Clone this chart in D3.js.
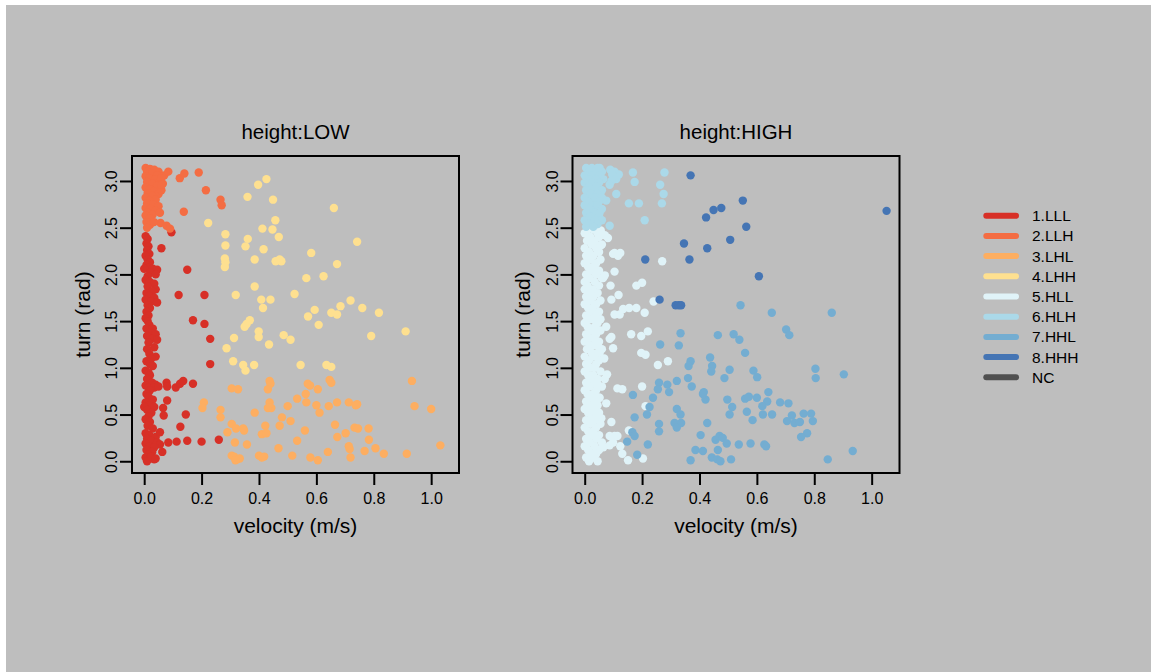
<!DOCTYPE html>
<html lang="en">
<head>
<meta charset="UTF-8">
<title>turn vs velocity by height</title>
<script src="https://cdnjs.cloudflare.com/ajax/libs/d3/7.8.5/d3.min.js"></script>
<style>
  body { margin: 0; background: #fff; }
  svg { display: block; font-family: "Liberation Sans", Arial, sans-serif; }
</style>
</head>
<body>
<div id="chart"></div>
<script>
// legend / state categories
var stateLabels = ["1.LLL", "2.LLH", "3.LHL", "4.LHH", "5.HLL", "6.HLH", "7.HHL", "8.HHH", "NC"];
var stateColors = ["#D73027", "#F46D43", "#FDAE61", "#FEE090", "#E0F3F8", "#ABD9E9", "#74ADD1", "#4575B4", "#505050"];
var panelTitles = ["height:LOW", "height:HIGH"];
var xTicks = [0, 0.2, 0.4, 0.6, 0.8, 1.0];
var yTicks = [0, 0.5, 1.0, 1.5, 2.0, 2.5, 3.0];

// [velocity, turn] pairs
var lowLLL = [
  [0.005,2.41],[0.012,2.38],[0.008,2.33],[0.015,2.3],[0.01,2.26],[0.018,2.22],[0.005,2.2],[0.012,2.16],[0.02,2.13],[0.008,2.1],
  [0.015,2.07],[0.03,2.06],[0.045,2.05],[0.0,2.06],[0.022,2.02],[0.04,2.0],[0.012,1.98],[0.005,1.94],[0.02,1.92],[0.035,1.9],
  [0.012,1.87],[0.04,1.84],[0.028,1.82],[0.008,1.8],[0.018,1.77],[0.035,1.75],[0.005,1.73],[0.025,1.71],[0.045,1.7],[0.012,1.67],
  [0.02,1.64],[0.008,1.6],[0.015,1.56],[0.005,1.53],[0.012,1.5],[0.018,1.46],[0.008,1.42],[0.03,1.42],[0.02,1.38],[0.04,1.36],
  [0.01,1.34],[0.028,1.31],[0.045,1.3],[0.015,1.27],[0.035,1.22],[0.01,1.2],[0.018,1.15],[0.04,1.12],[0.025,1.1],[0.008,1.07],
  [0.02,1.04],[0.03,1.02],[0.005,0.97],[0.015,0.95],[0.02,0.92],[0.01,0.88],[0.028,0.84],[0.04,0.82],[0.005,0.81],[0.015,0.79],
  [0.035,0.79],[0.05,0.8],[0.02,0.76],[0.008,0.72],[0.015,0.69],[0.03,0.66],[0.005,0.63],[0.018,0.6],[0.0,0.58],[0.035,0.58],
  [0.01,0.55],[0.025,0.52],[0.015,0.48],[0.005,0.45],[0.02,0.42],[0.012,0.38],[0.03,0.35],[0.005,0.3],[0.018,0.28],[0.04,0.26],
  [0.01,0.24],[0.025,0.22],[0.045,0.2],[0.055,0.18],[0.005,0.19],[0.018,0.16],[0.035,0.15],[0.008,0.12],[0.028,0.1],[0.015,0.07],
  [0.005,0.04],[0.02,0.03],[0.035,0.02],[0.01,0.0],[0.025,0.05],
  [0.06,2.28],[0.15,2.05],[0.095,2.45],[0.12,1.78],[0.21,1.78],[0.17,1.51],[0.21,1.47],[0.23,1.31],[0.23,1.04],[0.078,0.84],
  [0.08,0.80],[0.11,0.79],[0.125,0.83],[0.136,0.86],[0.17,0.83],[0.066,0.57],[0.068,0.49],[0.08,0.65],[0.145,0.50],[0.126,0.37],
  [0.084,0.20],[0.113,0.21],[0.15,0.22],[0.20,0.21],[0.26,0.23],[0.063,0.10],[0.055,0.31],[0.04,0.03]
];
var lowLLH = [
  [0.005,3.14],[0.02,3.13],[0.035,3.12],[0.05,3.1],[0.01,3.1],[0.028,3.08],[0.045,3.06],[0.005,3.05],[0.018,3.03],[0.038,3.02],
  [0.055,3.0],[0.01,2.99],[0.028,2.97],[0.045,2.95],[0.005,2.93],[0.02,2.91],[0.035,2.89],[0.012,2.87],[0.05,2.86],[0.028,2.84],
  [0.005,2.82],[0.04,2.8],[0.018,2.79],[0.01,2.76],[0.032,2.75],[0.05,2.73],[0.005,2.71],[0.022,2.7],[0.04,2.68],[0.012,2.66],
  [0.03,2.64],[0.055,2.66],[0.005,2.63],[0.02,2.6],[0.008,2.56],[0.02,2.53],[0.01,2.5],[0.07,3.06],[0.065,2.97],[0.06,2.9],
  [0.084,3.10],[0.124,3.03],[0.14,3.08],[0.19,3.09],[0.215,2.90],[0.266,2.80],[0.27,2.74],[0.138,2.67],[0.057,2.55],[0.078,2.52],
  [0.09,2.49],[0.034,2.56],[0.06,3.03],[0.06,2.96]
];
var lowLHL = [
  [0.208,0.63],[0.203,0.57],[0.266,0.55],[0.266,0.47],[0.305,0.78],[0.327,0.77],[0.305,0.40],[0.32,0.35],[0.29,0.31],[0.345,0.35],
  [0.348,0.33],[0.316,0.20],[0.358,0.18],[0.305,0.06],[0.313,0.05],[0.324,0.02],[0.333,0.03],[0.318,0.01],[0.385,0.52],[0.422,0.38],
  [0.41,0.29],[0.426,0.30],[0.40,0.06],[0.418,0.05],[0.41,0.04],[0.437,0.86],[0.44,0.83],[0.431,0.77],[0.437,0.63],[0.443,0.57],
  [0.431,0.57],[0.468,0.14],[0.48,0.47],[0.472,0.38],[0.50,0.59],[0.51,0.43],[0.516,0.06],[0.533,0.67],[0.533,0.22],[0.56,0.33],
  [0.563,0.72],[0.565,0.63],[0.57,0.83],[0.578,0.81],[0.579,0.04],[0.60,0.60],[0.605,0.77],[0.611,0.52],[0.605,0.01],[0.64,0.10],
  [0.643,0.59],[0.646,0.87],[0.652,0.84],[0.672,0.63],[0.665,0.39],[0.673,0.26],[0.702,0.30],[0.713,0.63],[0.737,0.60],[0.742,0.61],
  [0.713,0.16],[0.716,0.13],[0.719,0.04],[0.733,0.36],[0.745,0.35],[0.768,0.11],[0.782,0.35],[0.783,0.23],[0.806,0.14],[0.835,0.08],
  [0.915,0.08],[0.933,0.86],[0.942,0.59],[1.0,0.56],[1.032,0.17]
];
var lowLHH = [
  [0.426,3.02],[0.397,2.96],[0.36,2.83],[0.449,2.80],[0.661,2.71],[0.223,2.55],[0.457,2.58],[0.412,2.49],[0.447,2.48],[0.469,2.40],
  [0.283,2.43],[0.361,2.38],[0.283,2.31],[0.353,2.30],[0.416,2.27],[0.742,2.35],[0.281,2.17],[0.283,2.13],[0.281,2.08],[0.385,2.16],
  [0.458,2.14],[0.472,2.16],[0.478,2.14],[0.582,2.23],[0.672,2.11],[0.625,1.98],[0.565,1.96],[0.385,1.87],[0.319,1.78],[0.524,1.79],
  [0.408,1.73],[0.44,1.73],[0.414,1.64],[0.594,1.62],[0.719,1.72],[0.684,1.66],[0.76,1.64],[0.652,1.59],[0.672,1.57],[0.818,1.59],
  [0.571,1.55],[0.368,1.51],[0.357,1.47],[0.35,1.44],[0.608,1.46],[0.399,1.39],[0.399,1.33],[0.486,1.35],[0.51,1.30],[0.313,1.32],
  [0.435,1.25],[0.287,1.21],[0.791,1.34],[0.911,1.39],[0.31,1.07],[0.345,1.03],[0.353,0.97],[0.383,1.03],[0.545,1.03],[0.635,1.03],
  [0.652,1.01]
];
var highHLL = [
  [0.01,2.48],[0.03,2.48],[0.0,2.44],[0.045,2.44],[0.02,2.40],[0.05,2.40],[0.008,2.36],[0.035,2.36],[0.025,2.32],[0.06,2.32],
  [0.0,2.28],[0.04,2.28],[0.015,2.24],[0.05,2.24],[0.005,2.20],[0.03,2.20],[0.02,2.16],[0.055,2.16],[0.0,2.12],[0.04,2.12],
  [0.012,2.08],[0.03,2.08],[0.025,2.04],[0.05,2.04],[0.005,2.00],[0.04,2.00],[0.018,1.96],[0.06,1.96],[0.0,1.92],[0.035,1.92],
  [0.01,1.88],[0.05,1.88],[0.028,1.84],[0.0,1.84],[0.015,1.80],[0.045,1.80],[0.005,1.76],[0.03,1.76],[0.02,1.72],[0.055,1.72],
  [0.0,1.68],[0.04,1.68],[0.012,1.64],[0.028,1.64],[0.025,1.60],[0.05,1.60],[0.005,1.56],[0.04,1.56],[0.018,1.52],[0.03,1.52],
  [0.0,1.48],[0.045,1.48],[0.01,1.44],[0.035,1.44],[0.025,1.40],[0.055,1.40],[0.005,1.36],[0.04,1.36],[0.015,1.32],[0.03,1.32],
  [0.0,1.28],[0.05,1.28],[0.02,1.24],[0.035,1.24],[0.008,1.20],[0.06,1.20],[0.025,1.16],[0.045,1.16],[0.0,1.12],[0.03,1.12],
  [0.015,1.08],[0.05,1.08],[0.005,1.04],[0.04,1.04],[0.02,1.00],[0.035,1.00],[0.0,0.96],[0.055,0.96],[0.012,0.92],[0.03,0.92],
  [0.025,0.88],[0.045,0.88],[0.005,0.84],[0.035,0.84],[0.018,0.80],[0.06,0.80],[0.0,0.76],[0.04,0.76],[0.01,0.72],[0.03,0.72],
  [0.025,0.68],[0.05,0.68],[0.005,0.64],[0.038,0.64],[0.018,0.60],[0.045,0.60],[0.0,0.56],[0.03,0.56],[0.012,0.52],[0.05,0.52],
  [0.025,0.48],[0.04,0.48],[0.005,0.44],[0.035,0.44],[0.02,0.40],[0.055,0.40],[0.0,0.36],[0.04,0.36],[0.012,0.32],[0.03,0.32],
  [0.025,0.28],[0.05,0.28],[0.005,0.24],[0.04,0.24],[0.018,0.20],[0.06,0.20],[0.0,0.16],[0.035,0.16],[0.012,0.12],[0.05,0.12],
  [0.025,0.08],[0.04,0.08],[0.005,0.04],[0.03,0.04],[0.015,0.00],[0.045,0.00],
  [0.07,1.99],[0.075,1.44],[0.07,0.88],[0.065,0.15],[0.07,2.42],[0.068,1.1],[0.075,0.62],
  [0.056,2.47],[0.058,2.43],[0.081,2.39],[0.055,2.31],[0.099,2.22],[0.116,2.20],[0.124,2.23],[0.104,2.23],[0.27,2.14],[0.104,2.03],
  [0.064,1.96],[0.18,1.88],[0.20,1.91],[0.09,1.88],[0.118,1.78],[0.093,1.73],[0.24,1.71],[0.055,1.52],[0.104,1.57],[0.122,1.57],
  [0.134,1.63],[0.155,1.64],[0.18,1.64],[0.209,1.59],[0.041,1.39],[0.162,1.36],[0.197,1.34],[0.22,1.39],[0.087,1.31],[0.093,1.33],
  [0.099,1.21],[0.046,1.24],[0.052,1.16],[0.197,1.16],[0.212,1.14],[0.29,1.07],[0.255,1.03],[0.078,0.93],[0.043,0.83],[0.052,0.68],
  [0.114,0.78],[0.131,0.77],[0.20,0.80],[0.212,0.59],[0.058,0.46],[0.093,0.42],[0.154,0.33],[0.087,0.27],[0.104,0.27],[0.087,0.17],
  [0.099,0.20],[0.124,0.16],[0.131,0.08],[0.151,0.01],[0.203,0.03],[0.114,0.27]
];
var highHLH = [
  [0.005,3.14],[0.025,3.14],[0.045,3.14],[0.015,3.10],[0.035,3.10],[0.06,3.10],[0.0,3.06],[0.025,3.06],[0.05,3.06],[0.012,3.02],
  [0.04,3.02],[0.065,3.02],[0.0,2.98],[0.028,2.98],[0.05,2.98],[0.015,2.94],[0.04,2.94],[0.005,2.90],[0.03,2.90],[0.06,2.90],
  [0.02,2.86],[0.045,2.86],[0.0,2.82],[0.035,2.82],[0.06,2.82],[0.012,2.78],[0.05,2.78],[0.0,2.74],[0.028,2.74],[0.045,2.74],
  [0.018,2.70],[0.06,2.70],[0.005,2.66],[0.035,2.66],[0.02,2.62],[0.05,2.62],[0.0,2.58],[0.035,2.58],[0.06,2.58],[0.015,2.54],
  [0.045,2.54],[0.005,2.51],[0.03,2.51],
  [0.052,3.14],[0.089,3.12],[0.104,3.10],[0.119,3.07],[0.096,3.07],[0.11,3.02],[0.093,3.00],[0.087,2.96],[0.168,3.09],[0.174,2.99],
  [0.278,3.09],[0.263,2.96],[0.275,2.86],[0.269,2.76],[0.154,2.76],[0.189,2.76],[0.209,2.58],[0.11,2.86],[0.075,2.79],[0.087,2.52],
  [0.052,2.66]
];
var highHHL = [
  [0.543,1.67],[0.652,1.59],[0.861,1.59],[0.702,1.41],[0.713,1.35],[0.334,1.37],[0.464,1.35],[0.519,1.36],[0.539,1.30],[0.263,1.25],
  [0.328,1.24],[0.559,1.16],[0.437,1.11],[0.444,1.02],[0.441,0.96],[0.369,1.07],[0.362,1.02],[0.505,0.98],[0.487,0.89],[0.588,0.97],
  [0.601,0.90],[0.804,0.99],[0.805,0.89],[0.903,0.93],[0.259,0.84],[0.321,0.86],[0.36,0.89],[0.373,0.80],[0.288,0.82],[0.294,0.74],
  [0.255,0.77],[0.238,0.68],[0.168,0.71],[0.415,0.74],[0.421,0.66],[0.412,0.72],[0.497,0.66],[0.514,0.58],[0.505,0.50],[0.559,0.67],
  [0.572,0.69],[0.60,0.68],[0.64,0.74],[0.636,0.64],[0.619,0.59],[0.621,0.50],[0.653,0.50],[0.681,0.63],[0.71,0.62],[0.565,0.53],
  [0.585,0.44],[0.722,0.49],[0.705,0.43],[0.731,0.41],[0.75,0.42],[0.763,0.51],[0.789,0.51],[0.795,0.43],[0.775,0.30],[0.754,0.26],
  [0.174,0.47],[0.226,0.58],[0.217,0.50],[0.259,0.40],[0.259,0.32],[0.321,0.56],[0.334,0.50],[0.313,0.41],[0.336,0.41],[0.321,0.36],
  [0.427,0.41],[0.404,0.28],[0.456,0.23],[0.47,0.27],[0.481,0.25],[0.495,0.19],[0.537,0.18],[0.578,0.19],[0.626,0.18],[0.632,0.16],
  [0.386,0.12],[0.412,0.11],[0.464,0.12],[0.443,0.04],[0.462,0.02],[0.473,0.00],[0.369,0.01],[0.51,0.02],[0.148,0.21],[0.166,0.31],
  [0.174,0.27],[0.183,0.07],[0.22,0.18],[0.847,0.02],[0.934,0.11]
];
var highHHH = [
  [0.369,3.06],[0.551,2.79],[0.476,2.71],[0.449,2.69],[0.423,2.61],[0.563,2.51],[1.052,2.68],[0.507,2.37],[0.346,2.33],[0.427,2.28],
  [0.211,2.16],[0.365,2.16],[0.607,1.98],[0.261,1.73],[0.317,1.67],[0.328,1.67],[0.336,1.67]
];

var W = 1151, H = 672;
var svg = d3.select("#chart").append("svg").attr("width", W).attr("height", H);
svg.append("rect").attr("x", 6).attr("y", 5).attr("width", W - 6).attr("height", H - 5).attr("fill", "#BEBEBE");

var panels = [
  { title: panelTitles[0], left: 132, series: [[lowLLL, 0], [lowLLH, 1], [lowLHL, 2], [lowLHH, 3]] },
  { title: panelTitles[1], left: 572.5, series: [[highHLL, 4], [highHLH, 5], [highHHL, 6], [highHHH, 7]] }
];
var pw = 327, plotTop = 156, plotBottom = 473;
var y = d3.scaleLinear().domain([-0.1257, 3.2673]).range([plotBottom, plotTop]);

panels.forEach(function (p) {
  var x = d3.scaleLinear().domain([-0.0425, 1.097]).range([p.left, p.left + pw]);
  var g = svg.append("g");

  p.series.forEach(function (s) {
    g.append("g").selectAll("circle").data(s[0]).enter().append("circle")
      .attr("cx", d => x(d[0]))
      .attr("cy", d => y(d[1]))
      .attr("r", 4.2)
      .attr("fill", stateColors[s[1]]);
  });

  g.append("rect").attr("x", p.left).attr("y", plotTop).attr("width", pw).attr("height", plotBottom - plotTop)
    .attr("fill", "none").attr("stroke", "#000").attr("stroke-width", 2);

  var xa = g.append("g").attr("transform", "translate(0," + plotBottom + ")")
    .call(d3.axisBottom(x).tickValues(xTicks).tickFormat(d3.format(".1f")).tickSize(12).tickPadding(8));
  xa.select(".domain").remove();
  xa.selectAll("line").attr("stroke", "#000").attr("stroke-width", 2);
  xa.selectAll("text").attr("fill", "#000").style("font-size", "16px").style("font-family", "Liberation Sans, Arial, sans-serif");

  var ya = g.append("g").attr("transform", "translate(" + p.left + ",0)")
    .call(d3.axisLeft(y).tickValues(yTicks).tickFormat(d3.format(".1f")).tickSize(12));
  ya.select(".domain").remove();
  ya.selectAll("line").attr("stroke", "#000").attr("stroke-width", 2);
  ya.selectAll("text")
    .attr("x", 0).attr("y", -14.7).attr("dy", null)
    .attr("transform", "rotate(-90)")
    .attr("text-anchor", "middle")
    .attr("fill", "#000").style("font-size", "16px").style("font-family", "Liberation Sans, Arial, sans-serif");

  var cx = p.left + pw / 2;
  g.append("text").attr("x", cx).attr("y", 138.5).attr("text-anchor", "middle")
    .style("font-size", "20.5px").text(p.title);
  g.append("text").attr("x", cx).attr("y", 533).attr("text-anchor", "middle")
    .style("font-size", "21px").text("velocity (m/s)");
  g.append("text").attr("transform", "translate(" + (p.left - 42.5) + "," + ((plotTop + plotBottom) / 2) + ") rotate(-90)")
    .attr("text-anchor", "middle").style("font-size", "21px").text("turn (rad)");
});

// legend
var lg = svg.append("g");
var rows = lg.selectAll("g").data(stateLabels).enter().append("g")
  .attr("transform", (d, i) => "translate(0," + (215.7 + i * 20.2) + ")");
rows.append("line").attr("x1", 986.3).attr("x2", 1016).attr("y1", 0).attr("y2", 0)
  .attr("stroke", (d, i) => stateColors[i]).attr("stroke-width", 6).attr("stroke-linecap", "round");
rows.append("text").attr("x", 1032).attr("y", 0).attr("dy", "0.36em")
  .style("font-size", "15.5px").text(d => d);
</script>
</body>
</html>
